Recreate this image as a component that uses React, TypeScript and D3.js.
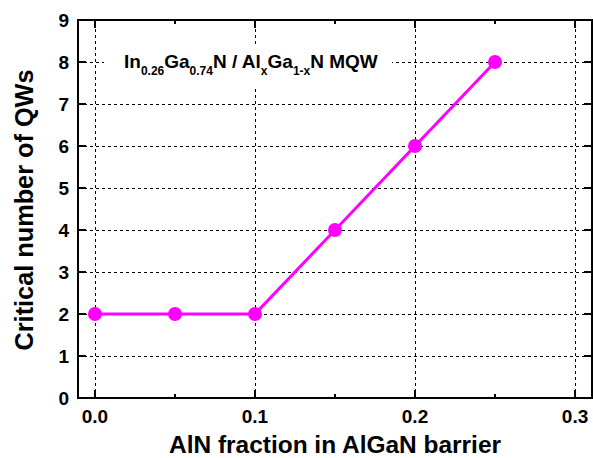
import React, { useEffect, useRef } from "react";
import * as d3 from "d3";

const fractions = [0.0, 0.05, 0.1, 0.15, 0.2, 0.25];
const criticalQWs = [2, 2, 2, 4, 6, 8];
const xTicks = [0.0, 0.1, 0.2, 0.3];
const xMinorTicks = [0.05, 0.15, 0.25];
const yTicks = [0, 1, 2, 3, 4, 5, 6, 7, 8, 9];

const W = 593;
const H = 458;
const margin = { top: 20, right: 1, bottom: 60, left: 78 };
const font = "'Liberation Sans', Arial, sans-serif";

export default function App() {
  const svgRef = useRef<SVGSVGElement>(null);

  useEffect(() => {
    const svg = d3.select(svgRef.current);
    svg.selectAll("*").remove();

    const x = d3
      .scaleLinear()
      .domain([-0.0106, 0.3106])
      .range([margin.left, W - margin.right]);
    const y = d3
      .scaleLinear()
      .domain([0, 9])
      .range([H - margin.bottom, margin.top]);

    const x0 = x.range()[0];
    const x1 = x.range()[1];
    const y0 = y.range()[0];
    const y1 = y.range()[1];

    // dashed grid
    const grid = svg.append("g").attr("stroke", "#000").attr("stroke-width", 1).attr("stroke-dasharray", "3,3");
    grid
      .selectAll("line.gx")
      .data(xTicks)
      .join("line")
      .attr("x1", (d) => Math.round(x(d)) + 0.5)
      .attr("x2", (d) => Math.round(x(d)) + 0.5)
      .attr("y1", y0)
      .attr("y2", y1);
    grid
      .selectAll("line.gy")
      .data(yTicks.filter((d) => d > 0 && d < 9))
      .join("line")
      .attr("y1", (d) => Math.round(y(d)) + 0.5)
      .attr("y2", (d) => Math.round(y(d)) + 0.5)
      .attr("x1", x0)
      .attr("x2", x1);

    // annotation with white background
    svg
      .append("rect")
      .attr("x", 104)
      .attr("y", 44)
      .attr("width", 288)
      .attr("height", 42)
      .attr("fill", "#fff");
    const note = svg
      .append("text")
      .attr("x", 124)
      .attr("font-family", font)
      .attr("font-weight", "bold");
    const parts: [string, boolean][] = [
      ["In", false],
      ["0.26", true],
      ["Ga", false],
      ["0.74", true],
      ["N / Al", false],
      ["x", true],
      ["Ga", false],
      ["1-x", true],
      ["N MQW", false],
    ];
    parts.forEach(([t, sub]) => {
      note
        .append("tspan")
        .attr("font-size", sub ? 12 : 19)
        .attr("y", sub ? 75 : 68)
        .text(t);
    });

    // line + markers
    const pts = fractions.map((f, i) => [f, criticalQWs[i]] as [number, number]);
    svg
      .append("path")
      .datum(pts)
      .attr("fill", "none")
      .attr("stroke", "#ff00ff")
      .attr("stroke-width", 3)
      .attr(
        "d",
        d3
          .line<[number, number]>()
          .x((d) => x(d[0]))
          .y((d) => y(d[1]))
      );
    svg
      .append("g")
      .selectAll("circle")
      .data(pts)
      .join("circle")
      .attr("cx", (d) => x(d[0]))
      .attr("cy", (d) => y(d[1]))
      .attr("r", 7)
      .attr("fill", "#ff00ff");

    // frame
    svg
      .append("rect")
      .attr("x", x0)
      .attr("y", y1)
      .attr("width", x1 - x0)
      .attr("height", y0 - y1)
      .attr("fill", "none")
      .attr("stroke", "#000")
      .attr("stroke-width", 2);

    // ticks (inward, on all sides)
    const ticks = svg.append("g").attr("stroke", "#000").attr("stroke-width", 2);
    xTicks.forEach((d) => {
      ticks.append("line").attr("x1", x(d)).attr("x2", x(d)).attr("y1", y0).attr("y2", y0 - 8);
      ticks.append("line").attr("x1", x(d)).attr("x2", x(d)).attr("y1", y1).attr("y2", y1 + 8);
    });
    xMinorTicks.forEach((d) => {
      ticks.append("line").attr("x1", x(d)).attr("x2", x(d)).attr("y1", y0).attr("y2", y0 - 4);
      ticks.append("line").attr("x1", x(d)).attr("x2", x(d)).attr("y1", y1).attr("y2", y1 + 4);
    });
    yTicks.forEach((d) => {
      ticks.append("line").attr("y1", y(d)).attr("y2", y(d)).attr("x1", x0).attr("x2", x0 + 8);
      ticks.append("line").attr("y1", y(d)).attr("y2", y(d)).attr("x1", x1).attr("x2", x1 - 8);
    });

    // tick labels
    svg
      .append("g")
      .selectAll("text")
      .data(xTicks)
      .join("text")
      .attr("x", (d) => x(d))
      .attr("y", y0 + 25)
      .attr("text-anchor", "middle")
      .attr("font-family", font)
      .attr("font-weight", "bold")
      .attr("font-size", 19)
      .text((d) => d3.format(".1f")(d));
    svg
      .append("g")
      .selectAll("text")
      .data(yTicks)
      .join("text")
      .attr("x", x0 - 9)
      .attr("y", (d) => y(d) + 7)
      .attr("text-anchor", "end")
      .attr("font-family", font)
      .attr("font-weight", "bold")
      .attr("font-size", 19)
      .text((d) => d);

    // axis titles
    svg
      .append("text")
      .attr("x", 335)
      .attr("y", 453)
      .attr("text-anchor", "middle")
      .attr("font-family", font)
      .attr("font-weight", "bold")
      .attr("font-size", 23)
      .attr("textLength", 332)
      .attr("lengthAdjust", "spacingAndGlyphs")
      .text("AlN fraction in AlGaN barrier");
    svg
      .append("text")
      .attr("transform", `translate(33,210) rotate(-90)`)
      .attr("text-anchor", "middle")
      .attr("font-family", font)
      .attr("font-weight", "bold")
      .attr("font-size", 25)
      .attr("textLength", 281)
      .attr("lengthAdjust", "spacingAndGlyphs")
      .text("Critical number of QWs");
  }, []);

  return (
    <svg
      ref={svgRef}
      width={W}
      height={H}
      style={{ position: "absolute", left: 0, top: 0, background: "#fff" }}
    />
  );
}
